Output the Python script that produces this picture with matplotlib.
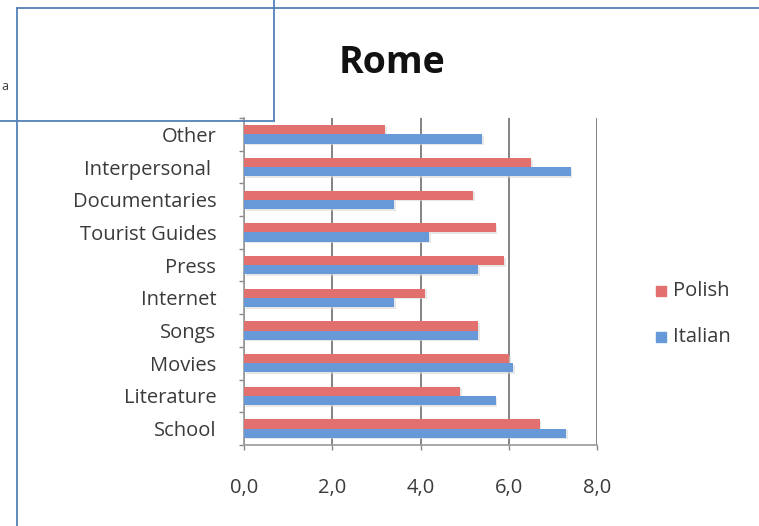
import matplotlib
matplotlib.use("Agg")
import matplotlib.pyplot as plt
import numpy as np
from matplotlib.lines import Line2D

# Categories listed bottom to top
categories = ["School", "Literature", "Movies", "Songs", "Internet", "Press",
              "Tourist Guides", "Documentaries", "Interpersonal ", "Other"]
polish = [6.7, 4.9, 6.0, 5.3, 4.1, 5.9, 5.7, 5.2, 6.5, 3.2]
italian = [7.3, 5.7, 6.1, 5.3, 3.4, 5.3, 4.2, 3.4, 7.4, 5.4]
series_names = ["Polish", "Italian"]
x_ticks = [0, 2, 4, 6, 8]
x_ticklabels = ["0,0", "2,0", "4,0", "6,0", "8,0"]
title = "Rome"

red = "#E2706E"
blue = "#6799D8"
text_col = "#3a3a3a"
frame_col = "#5580B8"
font = ["Open Sans", "DejaVu Sans"]
fs = 14.5

fig = plt.figure(figsize=(7.59, 5.26), dpi=100)
fig.patch.set_facecolor("white")

ax = fig.add_axes([244 / 759, 1 - 445 / 526, (597 - 244) / 759, (445 - 118) / 526])
y = np.arange(len(categories))
h = 0.28

# soft drop shadows under the bars
for vals, off in ((polish, h / 2), (italian, -h / 2)):
    ax.barh(y + off - 0.05, vals, height=h, left=0.04, color="#d8d8d8",
            alpha=0.6, zorder=2, linewidth=0)
ax.barh(y + h / 2, polish, height=h, color=red, zorder=3, linewidth=0,
        label=series_names[0])
ax.barh(y - h / 2, italian, height=h, color=blue, zorder=3, linewidth=0,
        label=series_names[1])

ax.set_xlim(0, 8)
ax.set_ylim(-0.5, len(categories) - 0.5)
ax.set_xticks(x_ticks)
ax.set_xticklabels(x_ticklabels, fontsize=fs, color=text_col, family=font)
ax.set_yticks(y)
ax.set_yticklabels(categories, fontsize=fs, color=text_col, family=font)
ax.set_yticks(np.arange(len(categories) + 1) - 0.5, minor=True)
ax.tick_params(axis="y", which="major", length=0, pad=20)
ax.tick_params(axis="y", which="minor", length=3.5, color="#888888", width=1)
ax.tick_params(axis="x", which="major", length=3.5, color="#888888", width=1, pad=20)

ax.grid(axis="x", color="#7a7a7a", linewidth=1.3, zorder=1)
for s in ("top", "right"):
    ax.spines[s].set_visible(False)
for s in ("left", "bottom"):
    ax.spines[s].set_color("#9a9a9a")
    ax.spines[s].set_linewidth(1.2)

fig.text(392 / 759, 1 - 63 / 526, title, ha="center", va="center",
         fontsize=27, fontweight="bold", color="#111111", family=font)

# legend
for name, col, ly in ((series_names[0], red, 291), (series_names[1], blue, 337)):
    fig.add_artist(Line2D([661 / 759], [1 - ly / 526], marker="s", markersize=6.5,
                          color=col, linestyle="none", transform=fig.transFigure))
    fig.text(673 / 759, 1 - ly / 526, name, ha="left", va="center",
             fontsize=fs, color=text_col, family=font)

# selection frame lines around the chart object
def fline(x0, y0, x1, y1):
    fig.add_artist(Line2D([x0 / 759, x1 / 759], [1 - y0 / 526, 1 - y1 / 526],
                          color=frame_col, linewidth=1.3,
                          transform=fig.transFigure))

fline(17, 8, 759, 8)
fline(17, 8, 17, 526)
fline(274, 0, 274, 121)
fline(0, 121, 274, 121)
fig.text(1 / 759, 1 - 86 / 526, "a", ha="left", va="center", fontsize=9,
         color=text_col, family=font)

fig.savefig("out.png", dpi=100, facecolor="white")
